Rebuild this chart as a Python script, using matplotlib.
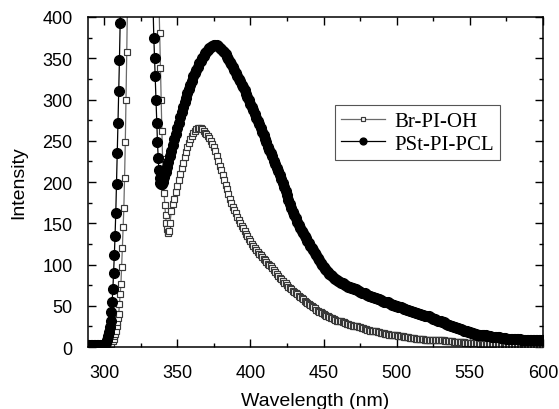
import numpy as np
import matplotlib
matplotlib.use("Agg")
import matplotlib.pyplot as plt
from matplotlib.ticker import MultipleLocator

# ---- data (wavelength nm, intensity a.u.) ----
# Br-PI-OH : excitation/scatter peak + trough
br_exc_wl = [289, 291, 293, 295, 297, 299, 301, 303, 304, 305, 306, 306.5, 307, 307.5,
             308, 308.5, 309, 309.5, 310, 310.5, 311, 311.5, 312, 312.5, 313, 313.5,
             314, 314.5, 315, 315.5, 316, 318, 326, 336, 337.5, 338, 338.5, 339, 339.5,
             340, 340.5, 341, 341.5, 342, 342.5, 343, 343.5, 344, 344.5, 345]
br_exc_int = [2, 2, 2, 2, 2, 2, 2, 2, 3, 4, 7, 10, 13, 16,
              20, 25, 30, 35, 40, 52, 64, 76, 97, 120, 145, 168,
              205, 248, 300, 357, 420, 700, 1100, 500, 420, 380, 338, 300, 262,
              228, 204, 187, 172, 160, 150, 143, 139, 138, 141, 150]
# Br-PI-OH : emission band, 346-600 nm, 1 nm steps
br_em_wl = np.arange(346, 601, 1)
br_em_int = [165, 173, 180, 188, 195, 203, 210, 217, 223, 230,
             236, 242, 247, 252, 256, 259, 262, 264, 265, 265,
             265, 264, 262, 260, 258, 256, 253, 250, 246, 242,
             237, 232, 226, 220, 214, 208, 202, 196, 191, 185,
             180, 175, 170, 166, 162, 158, 154, 150, 147, 144,
             141, 137, 134, 131, 128, 125, 123, 120, 118, 115,
             113, 111, 109, 107, 105, 103, 101, 99, 98, 96,
             93, 91, 88, 86, 84, 82, 80, 78, 77, 75,
             73, 72, 70, 68, 67, 65, 64, 62, 61, 59,
             58, 56, 55, 53, 52, 51, 50, 48, 47, 45,
             44, 43, 42, 41, 40, 39, 38, 37, 36, 35,
             35, 34, 33, 32, 32, 31, 31, 30, 30, 29,
             28, 28, 27, 27, 26, 26, 25, 25, 24, 24,
             23, 23, 22, 22, 21, 21, 20, 20, 19, 19,
             19, 18, 18, 17, 17, 17, 16, 16, 16, 15,
             15, 15, 14, 14, 14, 13, 13, 13, 13, 12,
             12, 12, 12, 11, 11, 11, 11, 10, 10, 10,
             10, 10, 10, 9, 9, 9, 9, 9, 9, 8,
             8, 8, 8, 8, 8, 8, 8, 7, 7, 7,
             7, 7, 7, 6, 6, 6, 6, 6, 6, 6,
             6, 5, 5, 5, 5, 5, 5, 5, 5, 5,
             5, 4, 4, 4, 4, 4, 4, 4, 4, 4,
             4, 4, 4, 3, 3, 3, 3, 3, 3, 3,
             3, 3, 3, 3, 3, 3, 3, 3, 3, 3,
             2, 2, 2, 2, 2, 2, 2, 2, 2, 2, 2, 2, 2, 2, 2]

# PSt-PI-PCL : excitation/scatter peak + trough
ps_exc_wl = [289, 290, 291, 292, 293, 294, 295, 296, 297, 298, 299, 300,
             301, 302, 303, 303.5, 304, 304.5, 305, 305.5, 306, 306.5, 307, 307.5,
             308, 308.5, 309, 309.5, 310, 310.5, 311, 311.5, 313, 322, 333, 333.5,
             334, 334.5, 335, 335.5, 336, 336.5, 337, 337.5, 338, 338.5, 339, 339.5]
ps_exc_int = [3, 3, 3, 3, 3, 3, 3, 3, 3, 3, 3, 3,
              5, 8, 13, 18, 24, 32, 42, 55, 70, 90, 111, 135,
              163, 198, 235, 272, 310, 348, 393, 440, 600, 1000, 480, 410,
              375, 350, 328, 300, 272, 248, 229, 214, 205, 199, 197, 198]
# PSt-PI-PCL : emission band, 340-600 nm, 1 nm steps
ps_em_wl = np.arange(340, 601, 1)
ps_em_int = [200, 206, 212, 218, 224, 231, 238, 245, 252, 258,
             265, 272, 279, 285, 291, 297, 302, 308, 313, 318,
             323, 328, 332, 336, 340, 344, 347, 350, 353, 356,
             358, 360, 362, 364, 365, 366, 366, 366, 365, 363,
             361, 359, 357, 355, 352, 349, 346, 343, 339, 336,
             332, 329, 325, 322, 318, 315, 311, 307, 303, 299,
             295, 291, 287, 283, 278, 274, 270, 266, 261, 257,
             252, 248, 243, 239, 235, 231, 226, 222, 217, 213,
             208, 204, 199, 194, 189, 184, 178, 173, 168, 164,
             160, 156, 152, 148, 144, 141, 138, 135, 132, 129,
             126, 123, 120, 117, 114, 111, 108, 105, 102, 100,
             97, 95, 93, 91, 89, 87, 86, 84, 83, 81,
             80, 79, 78, 77, 76, 75, 74, 73, 73, 72,
             71, 70, 70, 69, 68, 67, 66, 65, 65, 64,
             63, 62, 62, 61, 61, 60, 59, 58, 58, 57,
             56, 55, 55, 54, 54, 53, 52, 51, 51, 50,
             50, 49, 49, 48, 47, 46, 46, 45, 45, 44,
             44, 43, 42, 41, 41, 40, 40, 39, 39, 38,
             38, 37, 37, 36, 35, 34, 34, 33, 32, 31,
             31, 30, 30, 29, 28, 27, 27, 26, 25, 24,
             24, 23, 23, 22, 22, 21, 20, 19, 19, 18,
             18, 17, 17, 16, 16, 15, 15, 15, 15, 14,
             14, 14, 13, 13, 13, 12, 12, 12, 12, 12,
             12, 11, 11, 11, 11, 10, 10, 10, 10, 10,
             10, 10, 10, 10, 10, 9, 9, 9, 9, 9,
             9, 9, 9, 8, 8, 8, 8, 8, 8, 8,
             8]

br_wl = np.concatenate([br_exc_wl, br_em_wl])
br_int = np.concatenate([br_exc_int, br_em_int])
ps_wl = np.concatenate([ps_exc_wl, ps_em_wl])
ps_int = np.concatenate([ps_exc_int, ps_em_int])

fig = plt.figure(figsize=(5.59, 4.10), dpi=100)
ax = fig.add_axes([0.1574, 0.1512, 0.8140, 0.8049])

ax.plot(br_wl, br_int, color="#6a6a6a", lw=0.9, marker="s", ms=4.8,
        mfc="white", mec="#383838", mew=0.85, label="Br-PI-OH", zorder=2)
ax.plot(ps_wl, ps_int, color="black", lw=0.9, marker="o", ms=7,
        mfc="black", mec="black", label="PSt-PI-PCL", zorder=3)

ax.set_xlim(289, 600)
ax.set_ylim(0, 400)
ax.xaxis.set_major_locator(MultipleLocator(50))
ax.xaxis.set_minor_locator(MultipleLocator(25))
ax.yaxis.set_major_locator(MultipleLocator(50))
ax.yaxis.set_minor_locator(MultipleLocator(25))
ax.tick_params(which="both", direction="in", top=True, right=True,
               labelfontfamily="Liberation Sans", labelsize=13, width=1.0)
ax.tick_params(which="major", length=6)
ax.tick_params(which="minor", length=3)
ax.tick_params(axis="x", which="major", pad=12)
ax.tick_params(axis="y", which="major", pad=11)
for s in ax.spines.values():
    s.set_linewidth(1.1)

ax.set_xlabel("Wavelength (nm)", family="Liberation Sans", fontsize=14, labelpad=8)
ax.set_ylabel("Intensity", family="Liberation Sans", fontsize=14, labelpad=11)

leg = ax.legend(loc="upper left", bbox_to_anchor=(0.543, 0.733), borderaxespad=0,
                prop={"family": "Liberation Serif", "size": 15}, fancybox=False,
                edgecolor="#555555", handlelength=2.1, handletextpad=0.45,
                borderpad=0.3, labelspacing=0.15, framealpha=1, markerscale=0.7)
leg.get_frame().set_linewidth(0.8)

fig.savefig("out.png", dpi=100)
